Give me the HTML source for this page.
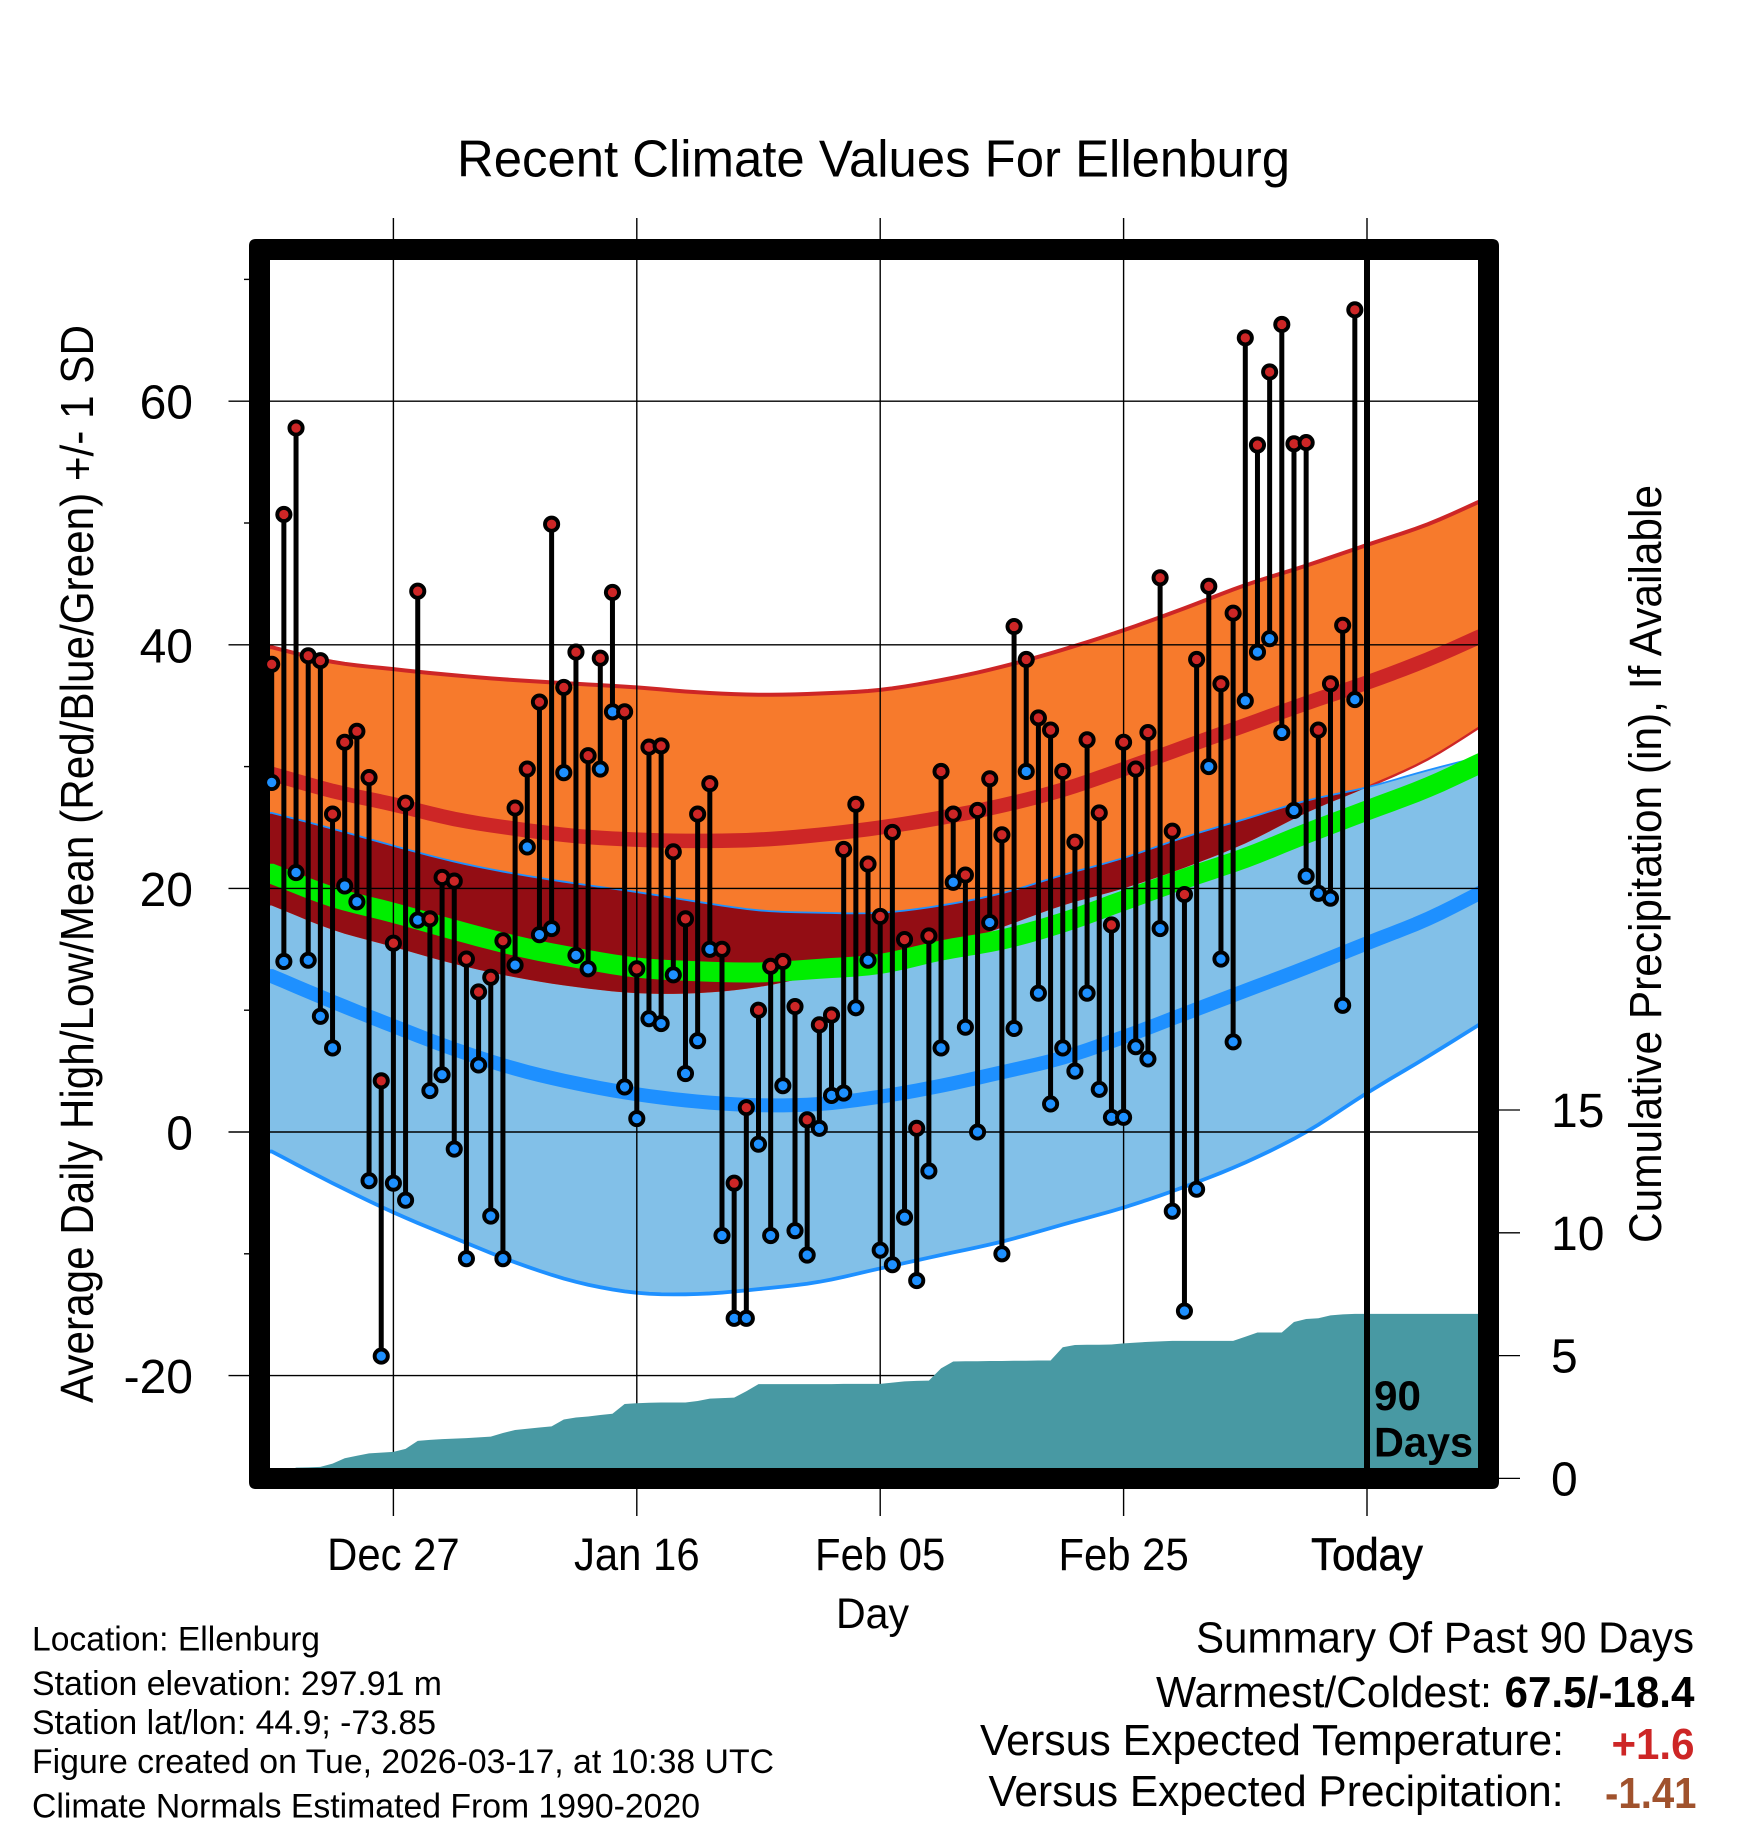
<!DOCTYPE html>
<html>
<head>
<meta charset="utf-8">
<title>Recent Climate Values For Ellenburg</title>
<style>
html,body{margin:0;padding:0;background:#fff;}
svg{display:block;}
text{font-family:"Liberation Sans",Arial,sans-serif;fill:#000;}
</style>
</head>
<body>
<svg id="chart" xmlns="http://www.w3.org/2000/svg" width="1748" height="1828" viewBox="0 0 1748 1828">
<defs><clipPath id="plot-clip"><rect x="270" y="260" width="1208" height="1208"/></clipPath></defs>
<g id="bands" clip-path="url(#plot-clip)"></g>
<g id="grid"></g>
<g id="precip" clip-path="url(#plot-clip)"></g>
<path fill="#000" fill-rule="evenodd" d="M256 239H1492Q1499 239 1499 246V1482Q1499 1489 1492 1489H256Q249 1489 249 1482V246Q249 239 256 239ZM270 260V1468H1478V260Z"/>
<g id="today"></g>
<g id="marks"></g>
<g id="labels"></g>

<text x="457" y="176.5" font-size="52" textLength="833" lengthAdjust="spacingAndGlyphs">Recent Climate Values For Ellenburg</text>
<text transform="translate(93 1403) rotate(-90)" font-size="46" textLength="1078" lengthAdjust="spacingAndGlyphs">Average Daily High/Low/Mean (Red/Blue/Green) +/- 1 SD</text>
<text transform="translate(1661 1243) rotate(-90)" font-size="45" textLength="758" lengthAdjust="spacingAndGlyphs">Cumulative Precipitation (in), If Available</text>
<text x="836" y="1628" font-size="43" textLength="73" lengthAdjust="spacingAndGlyphs">Day</text>
<text x="1374" y="1410" font-size="42" font-weight="bold" textLength="47" lengthAdjust="spacingAndGlyphs">90</text>
<text x="1374" y="1456.5" font-size="42" font-weight="bold" textLength="99" lengthAdjust="spacingAndGlyphs">Days</text>

<text x="32" y="1650.5" font-size="34" textLength="288" lengthAdjust="spacingAndGlyphs">Location: Ellenburg</text>
<text x="32" y="1695" font-size="34" textLength="410" lengthAdjust="spacingAndGlyphs">Station elevation: 297.91 m</text>
<text x="32" y="1734" font-size="34" textLength="404" lengthAdjust="spacingAndGlyphs">Station lat/lon: 44.9; -73.85</text>
<text x="32" y="1773" font-size="34" textLength="742" lengthAdjust="spacingAndGlyphs">Figure created on Tue, 2026-03-17, at 10:38 UTC</text>
<text x="32" y="1817.5" font-size="34" textLength="668" lengthAdjust="spacingAndGlyphs">Climate Normals Estimated From 1990-2020</text>

<text x="1196" y="1652.5" font-size="43.5" textLength="498" lengthAdjust="spacingAndGlyphs">Summary Of Past 90 Days</text>
<text x="1156" y="1707" font-size="43.5" textLength="336" lengthAdjust="spacingAndGlyphs">Warmest/Coldest:</text>
<text x="1504.5" y="1707" font-size="43.5" font-weight="bold" textLength="190" lengthAdjust="spacingAndGlyphs">67.5/-18.4</text>
<text x="980" y="1755" font-size="43.5" textLength="584" lengthAdjust="spacingAndGlyphs">Versus Expected Temperature:</text>
<text x="1611.5" y="1759" font-size="43.5" font-weight="bold" style="fill:#CD2626" textLength="83" lengthAdjust="spacingAndGlyphs">+1.6</text>
<text x="988.5" y="1806" font-size="43.5" textLength="575" lengthAdjust="spacingAndGlyphs">Versus Expected Precipitation:</text>
<text x="1605" y="1808" font-size="43.5" font-weight="bold" style="fill:#A0522D" textLength="91.5" lengthAdjust="spacingAndGlyphs">-1.41</text>
</svg>

<script>
const dayTickLabels = ['Dec 27','Jan 16','Feb 05','Feb 25','Today'];
const dayTickIndex = [10,30,50,70,90];
const tempTicks = [-20,0,20,40,60];
const tempMinorTicks = [-10,10,30,50,70];
const precipTicks = [0,5,10,15];

const dailyHigh = [38.4,50.7,57.8,39.1,38.7,26.1,32,32.9,29.1,4.2,15.5,27,44.4,17.5,20.9,20.6,14.2,11.5,12.7,15.7,26.6,29.8,35.3,49.9,36.5,39.4,30.9,38.9,44.3,34.5,13.4,31.6,31.7,23,17.5,26.1,28.6,15,-4.2,2,10,13.6,14,10.3,1,8.8,9.6,23.2,26.9,22,17.7,24.6,15.8,0.3,16.1,29.6,26.1,21.1,26.4,29,24.4,41.5,38.8,34,33,29.6,23.8,32.2,26.2,17,32,29.8,32.8,45.5,24.7,19.5,38.8,44.8,36.8,42.6,65.2,56.4,62.4,66.3,56.5,56.6,33,36.8,41.6,67.5];
const dailyLow = [28.7,14,21.3,14.1,9.5,6.9,20.2,18.9,-4,-18.4,-4.2,-5.6,17.4,3.4,4.7,-1.4,-10.4,5.5,-6.9,-10.4,13.7,23.4,16.2,16.7,29.5,14.5,13.4,29.8,34.5,3.7,1.1,9.3,8.9,12.9,4.8,7.5,15,-8.5,-15.3,-15.3,-1,-8.5,3.8,-8.1,-10.1,0.3,3,3.2,10.2,14.1,-9.7,-10.9,-7,-12.2,-3.2,6.9,20.5,8.6,0,17.2,-10,8.5,29.6,11.4,2.3,6.9,5,11.4,3.5,1.2,1.2,7,6,16.7,-6.5,-14.7,-4.7,30,14.2,7.4,35.4,39.4,40.5,32.8,26.4,21,19.6,19.2,10.4,35.5];
const cumulativePrecip = [0,0.2,0.44,0.45,0.47,0.6,0.82,0.92,1.02,1.05,1.08,1.2,1.53,1.57,1.6,1.62,1.64,1.67,1.7,1.85,1.97,2.02,2.07,2.12,2.4,2.48,2.52,2.58,2.63,3.03,3.06,3.08,3.09,3.09,3.09,3.15,3.25,3.27,3.29,3.55,3.84,3.84,3.84,3.84,3.84,3.84,3.84,3.85,3.85,3.85,3.85,3.9,3.95,3.97,3.98,4.48,4.76,4.77,4.77,4.78,4.78,4.79,4.79,4.8,4.8,5.34,5.43,5.44,5.44,5.45,5.5,5.53,5.56,5.58,5.6,5.6,5.6,5.6,5.6,5.6,5.77,5.94,5.94,5.94,6.37,6.49,6.52,6.64,6.68,6.7];

const normalDays = [0,5,10,15,20,25,30,35,40,45,50,55,60,65,70,75,80,85,90,95,100];
const highPlusSd = [39.8,38.6,38,37.5,37.1,36.8,36.5,36.1,35.9,36,36.3,37.1,38.2,39.6,41.2,43,44.9,46.5,48.2,49.9,52.1];
const meanHigh = [29.4,28,26.9,25.7,24.9,24.3,24,23.9,24,24.4,25,25.8,26.8,28.1,29.8,31.6,33.4,35.2,36.9,38.8,41];
const highMinusSd = [18.6,16.6,15.2,13.8,12.7,11.9,11.4,11.4,11.9,12.9,13.7,15,16.8,18.6,20,21.7,23.7,26.2,28.3,30.6,33.7];
const lowPlusSd = [26.2,24.9,23.5,22.2,21.2,20.4,19.7,18.9,18.2,18,18,18.6,19.6,21.1,22.5,24.2,25.7,27.2,28.3,29.7,31];
const meanTemp = [21.2,19.3,18,16.6,15.3,14.3,13.5,13.2,13.1,13.4,13.8,14.9,15.8,17.2,19,20.8,22.5,24.5,26.4,28.3,30.6];
const meanLow = [12.8,10.7,8.7,6.8,5.2,4,3.1,2.5,2.2,2.3,2.9,3.8,4.9,6.1,7.8,9.7,11.6,13.5,15.5,17.5,20];
const lowMinusSd = [-1.6,-4.2,-6.6,-8.7,-10.7,-12.3,-13.2,-13.3,-12.9,-12.3,-11.2,-10.1,-9,-7.6,-6.2,-4.5,-2.5,0,3.2,6.2,9.3];

const NS = 'http://www.w3.org/2000/svg';
function xDay(i){ return 271.7 + 12.17 * i; }
function yTemp(v){ return 1132 - 12.18 * v; }
function yPrecip(p){ return 1478.4 - 24.56 * p; }

function mk(parent, tag, attrs){
  const el = document.createElementNS(NS, tag);
  for (const k in attrs) el.setAttribute(k, attrs[k]);
  parent.appendChild(el);
  return el;
}

// Smooth evaluation of a normal curve between its read values, drawn at 1-day resolution.
function curveAt(values, t){
  const step = normalDays[1] - normalDays[0];
  const last = normalDays.length - 1;
  const u = Math.max(0, Math.min(last, (t - normalDays[0]) / step));
  const k = Math.min(last - 1, Math.floor(u));
  const f = u - k;
  const p1 = values[k], p2 = values[k + 1];
  const p0 = k > 0 ? values[k - 1] : 2 * p1 - p2;
  const p3 = k + 2 <= last ? values[k + 2] : 2 * p2 - p1;
  return 0.5 * (2*p1 + (p2-p0)*f + (2*p0-5*p1+4*p2-p3)*f*f + (3*p1-p0-3*p2+p3)*f*f*f);
}
const drawDays = [];
for (let t = -1; t <= 100; t++) drawDays.push(t);

function linePath(fn, days){
  return days.map(function(t, n){ return (n ? 'L' : 'M') + xDay(t).toFixed(2) + ' ' + yTemp(fn(t)).toFixed(2); }).join('');
}
function bandPath(upper, lower){
  const rev = drawDays.slice().reverse();
  return linePath(upper, drawDays) + rev.map(function(t){ return 'L' + xDay(t).toFixed(2) + ' ' + yTemp(lower(t)).toFixed(2); }).join('') + 'Z';
}
const fHighPlus = function(t){ return curveAt(highPlusSd, t); };
const fHighMean = function(t){ return curveAt(meanHigh, t); };
const fHighMinus = function(t){ return curveAt(highMinusSd, t); };
const fLowPlus = function(t){ return curveAt(lowPlusSd, t); };
const fMean = function(t){ return curveAt(meanTemp, t); };
const fLowMean = function(t){ return curveAt(meanLow, t); };
const fLowMinus = function(t){ return curveAt(lowMinusSd, t); };
const fOverlapTop = function(t){ return Math.max(fLowPlus(t), fHighMinus(t)); };

const bands = document.getElementById('bands');
const blueBand = mk(bands, 'path', {d: bandPath(fLowPlus, fLowMinus), fill: '#82C0E8'});


const blueBottom = mk(bands, 'path', {d: linePath(fLowMinus, drawDays), fill: 'none', stroke: '#1E90FF', 'stroke-width': 3.8});


const orangeBand = mk(bands, 'path', {d: bandPath(fHighPlus, fHighMinus), fill: '#F77A2C'});


const overlapBand = mk(bands, 'path', {d: bandPath(fOverlapTop, fHighMinus), fill: '#930D14'});


const redTop = mk(bands, 'path', {d: linePath(fHighPlus, drawDays), fill: 'none', stroke: '#CD2626', 'stroke-width': 4});


const redBottomDays = drawDays.filter(function(t){ return fHighMinus(t) >= fLowPlus(t); });
const redBottom = mk(bands, 'path', {d: linePath(fHighMinus, redBottomDays), fill: 'none', stroke: '#CD2626', 'stroke-width': 2.4});


const blueTop = mk(bands, 'path', {d: linePath(fLowPlus, drawDays), fill: 'none', stroke: '#1E90FF', 'stroke-width': 1.8});


const meanHighLine = mk(bands, 'path', {d: linePath(fHighMean, drawDays), fill: 'none', stroke: '#CD2626', 'stroke-width': 14.5});


const meanLowLine = mk(bands, 'path', {d: linePath(fLowMean, drawDays), fill: 'none', stroke: '#1E90FF', 'stroke-width': 14});


const meanTempLine = mk(bands, 'path', {d: linePath(fMean, drawDays), fill: 'none', stroke: '#00EE00', 'stroke-width': 20});



const grid = document.getElementById('grid');
tempTicks.forEach(function(v){
  const ln = mk(grid, 'line', {x1: 228.5, x2: 1478, y1: yTemp(v), y2: yTemp(v), stroke: '#000', 'stroke-width': 1.4});
  
  
});
tempMinorTicks.forEach(function(v){
  const ln = mk(grid, 'line', {x1: 244, x2: 250, y1: yTemp(v), y2: yTemp(v), stroke: '#000', 'stroke-width': 1.4});
  
  
});
dayTickIndex.forEach(function(d){
  const ln = mk(grid, 'line', {x1: xDay(d), x2: xDay(d), y1: 218, y2: 1516, stroke: '#000', 'stroke-width': 1.4});
  
  
});
precipTicks.forEach(function(p){
  const ln = mk(grid, 'line', {x1: 1498, x2: 1520, y1: yPrecip(p), y2: yPrecip(p), stroke: '#000', 'stroke-width': 1.3});
  
  
});

const precipGroup = document.getElementById('precip');
let precipD = 'M' + xDay(0).toFixed(2) + ' 1480';
cumulativePrecip.forEach(function(p, i){ precipD += 'L' + xDay(i).toFixed(2) + ' ' + yPrecip(p).toFixed(2); });
precipD += 'L' + xDay(100).toFixed(2) + ' ' + yPrecip(cumulativePrecip[cumulativePrecip.length - 1]).toFixed(2);
precipD += 'L' + xDay(100).toFixed(2) + ' 1480Z';
const precipArea = mk(precipGroup, 'path', {d: precipD, fill: '#4899A3'});



const todayGroup = document.getElementById('today');
const todayLine = mk(todayGroup, 'line', {x1: xDay(90), x2: xDay(90), y1: 260, y2: 1468, stroke: '#000', 'stroke-width': 6});



const marks = document.getElementById('marks');
dailyHigh.forEach(function(h, i){
  const st = mk(marks, 'line', {x1: xDay(i), x2: xDay(i), y1: yTemp(h), y2: yTemp(dailyLow[i]), stroke: '#000', 'stroke-width': 5});
  
  
});
dailyLow.forEach(function(l, i){
  const c = mk(marks, 'circle', {cx: xDay(i), cy: yTemp(l), r: 6.6, fill: '#1E90FF', stroke: '#000', 'stroke-width': 3.9});
  
  
});
dailyHigh.forEach(function(h, i){
  const c = mk(marks, 'circle', {cx: xDay(i), cy: yTemp(h), r: 6.6, fill: '#CD2626', stroke: '#000', 'stroke-width': 3.9});
  
  
});

const labels = document.getElementById('labels');
tempTicks.forEach(function(v){
  const t = mk(labels, 'text', {x: 193, y: yTemp(v) + 17.5, 'font-size': 48, 'text-anchor': 'end'});
  t.textContent = String(v);
  
  
});
precipTicks.forEach(function(p){
  const t = mk(labels, 'text', {x: 1551, y: yPrecip(p) + 17, 'font-size': 48});
  t.textContent = String(p);
  
  
});
dayTickIndex.forEach(function(d, n){
  const t = mk(labels, 'text', {x: xDay(d), y: 1570, 'font-size': 45, 'text-anchor': 'middle'});
  t.textContent = dayTickLabels[n];
  
  
  t.setAttribute('lengthAdjust', 'spacingAndGlyphs');
  t.setAttribute('textLength', (t.getComputedTextLength() * 0.93).toFixed(1));
  if (dayTickLabels[n] === 'Today') {
    t.setAttribute('stroke', '#000');
    t.setAttribute('stroke-width', '0.7');
  }
});
</script>
</body>
</html>
